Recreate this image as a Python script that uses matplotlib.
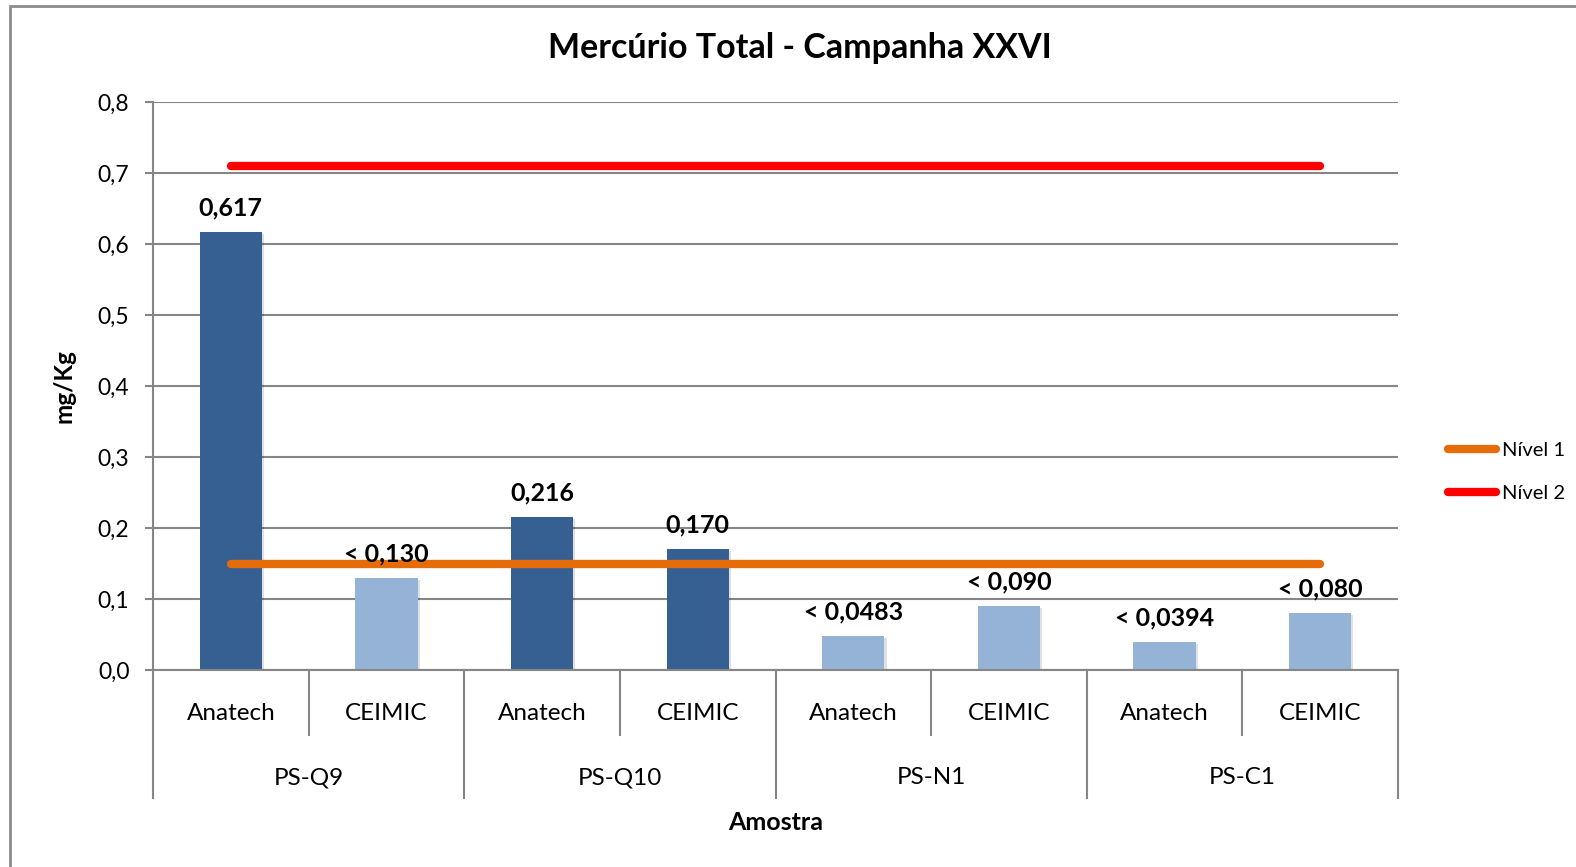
import matplotlib
matplotlib.use("Agg")
import matplotlib.pyplot as plt
from matplotlib.lines import Line2D
from matplotlib.patches import Rectangle
import matplotlib.patheffects as pe
import matplotlib.transforms as mtrans

plt.rcParams['font.family'] = ['Lato', 'DejaVu Sans']

# ---- data ----
groups = ["PS-Q9", "PS-Q10", "PS-N1", "PS-C1"]
labs = ["Anatech", "CEIMIC"]
values = [0.617, 0.130, 0.216, 0.170, 0.0483, 0.090, 0.0394, 0.080]
value_labels = ["0,617", "< 0,130", "0,216", "0,170", "< 0,0483", "< 0,090", "< 0,0394", "< 0,080"]
below_limit = [False, True, False, False, True, True, True, True]
nivel1 = 0.15
nivel2 = 0.71
yticks = [0.0, 0.1, 0.2, 0.3, 0.4, 0.5, 0.6, 0.7, 0.8]
ytick_labels = ["0,0", "0,1", "0,2", "0,3", "0,4", "0,5", "0,6", "0,7", "0,8"]

dark = "#366092"
light = "#95B3D7"
grid_c = "#868686"

W, H = 1576, 867
fig = plt.figure(figsize=(W / 100, H / 100), dpi=100)

# outer chart border
fig.patches.append(Rectangle((10 / W, -0.05), 1.2, 1 - 5.5 / H + 0.05,
                             transform=fig.transFigure, fill=False,
                             edgecolor="#8c8c8c", linewidth=2.0))

ax = fig.add_axes([153 / W, 1 - 670 / H, (1398 - 153) / W, (670 - 102) / H])

n = len(values)
xs = list(range(n))
colors = [light if b else dark for b in below_limit]
bars = ax.bar(xs, values, width=0.4, color=colors, zorder=2)
for b in bars:
    b.set_path_effects([pe.SimplePatchShadow(offset=(1.5, -1.5), shadow_rgbFace="#000000", alpha=0.12),
                        pe.Normal()])

for x, v, t in zip(xs, values, value_labels):
    ax.annotate(t, (x, v), xytext=(0, 9), textcoords="offset points",
                ha="center", va="bottom", fontsize=18, fontweight="bold", color="black", zorder=5)

# reference lines
ax.plot([xs[0], xs[-1]], [nivel1, nivel1], color="#E46C0A", lw=6, solid_capstyle="round", zorder=4)
ax.plot([xs[0], xs[-1]], [nivel2, nivel2], color="#FF0000", lw=6, solid_capstyle="round", zorder=4)

ax.set_xlim(-0.5, n - 0.5)
ax.set_ylim(0, 0.8)
ax.set_yticks(yticks)
ax.set_yticklabels(ytick_labels, fontsize=16.5)
ax.yaxis.grid(True, color=grid_c, linewidth=1.5, zorder=0)
ax.set_axisbelow(True)
ax.tick_params(axis="y", direction="out", length=6, width=1.5, color=grid_c, pad=11)
ax.set_xticks([])

for s in ["top", "right"]:
    ax.spines[s].set_visible(False)
ax.spines["left"].set_color(grid_c)
ax.spines["left"].set_linewidth(1.5)
ax.spines["bottom"].set_color(grid_c)
ax.spines["bottom"].set_linewidth(1.5)

# two-level category axis
trans = mtrans.blended_transform_factory(ax.transData, ax.transAxes)
ah = 670 - 102
sub_tick = -65 / ah
grp_tick = -128 / ah
for i in range(n + 1):
    xb = i - 0.5
    yb = grp_tick if i % 2 == 0 else sub_tick
    ax.plot([xb, xb], [0, yb], transform=trans, color=grid_c, lw=1.5, clip_on=False)
for i in range(n):
    ax.text(i, -43 / ah, labs[i % 2], transform=trans, ha="center", va="center", fontsize=17.5)
for g, name in enumerate(groups):
    ax.text(2 * g + 0.5, -108 / ah, name, transform=trans, ha="center", va="center", fontsize=17.5)

ax.text(0.5, -153 / ah, "Amostra", transform=ax.transAxes, ha="center", va="center",
        fontsize=18, fontweight="bold")
ax.set_ylabel("mg/Kg", fontsize=17.5, fontweight="bold", labelpad=16)

fig.text(800 / W, 1 - 48 / H, "Mercúrio Total - Campanha XXVI", ha="center", va="center",
         fontsize=24.5, fontweight="bold")

handles = [Line2D([0], [0], color="#E46C0A", lw=6, solid_capstyle="round"),
           Line2D([0], [0], color="#FF0000", lw=6, solid_capstyle="round")]
fig.legend(handles, ["Nível 1", "Nível 2"], loc="center left",
           bbox_to_anchor=(1440 / W, 1 - 472 / H), frameon=False, fontsize=14.5,
           handlelength=2.4, handletextpad=0.3, labelspacing=1.25, borderaxespad=0)

fig.savefig("out.png", dpi=100)
